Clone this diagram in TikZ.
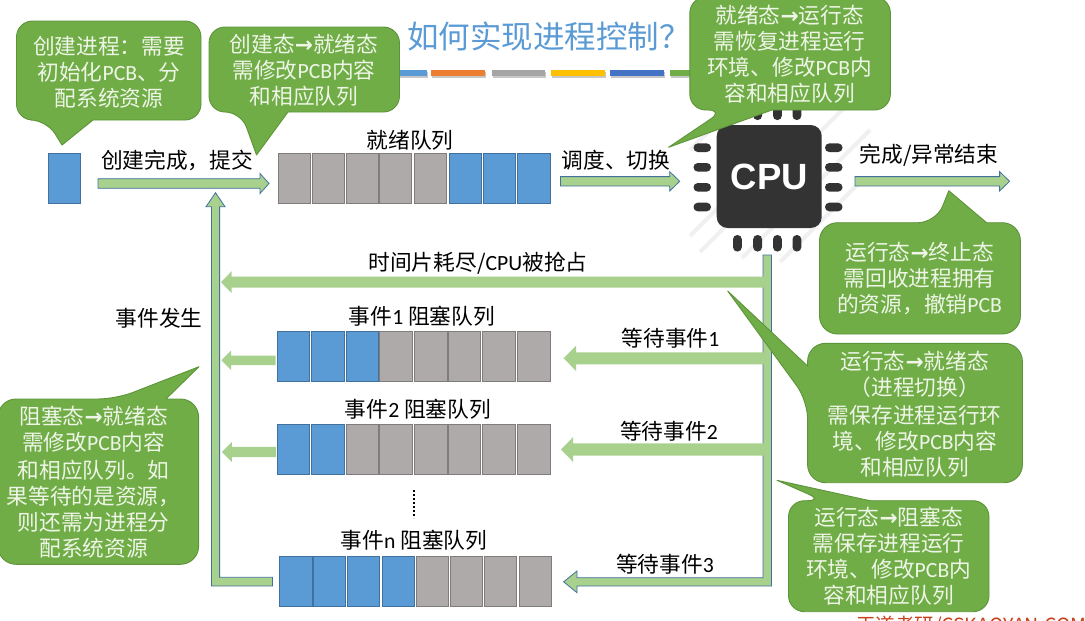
\documentclass[tikz,border=0pt]{standalone}
\usepackage{fontspec}
\usetikzlibrary{calc}
\setmainfont{Noto Sans CJK SC}
\newfontfamily\cjkfont{Noto Sans CJK SC}
\newfontfamily\latfont{Carlito}
\newfontfamily\cpufont{Liberation Sans}
\newfontfamily\arrfont{DejaVu Sans}
\newcommand{\lat}[1]{{\latfont #1}}
\newcommand{\arr}{{\arrfont\bfseries →}}
\definecolor{cgreen}{HTML}{70AD47}
\definecolor{cgreenedge}{HTML}{5E9439}
\definecolor{cinktext}{HTML}{EEF5E6}
\definecolor{barfill}{HTML}{A9D18E}
\definecolor{baredge}{HTML}{41719C}
\definecolor{bluefill}{HTML}{5B9BD5}
\definecolor{grayfill}{HTML}{AEAAAA}
\definecolor{grayedge}{HTML}{7F7C7C}
\definecolor{chip}{HTML}{333333}
\definecolor{markred}{HTML}{C8401A}
\tikzset{
  x=1pt,y=-1pt,
  txt/.style={inner sep=0pt,outer sep=0pt,font=\cjkfont\fontsize{21.7}{26}\selectfont,align=center,text=black},
  calltxt/.style={txt,text=cinktext},
  callout/.style={draw=cgreenedge,fill=cgreen,line width=0.9pt,line join=round},
  cb/.style={draw=baredge,fill=bluefill,line width=1pt,inner sep=0pt,outer sep=0pt},
  cg/.style={draw=grayedge,fill=grayfill,line width=1pt,inner sep=0pt,outer sep=0pt},
  edged/.style={draw=baredge,fill=barfill,line width=0.8pt,line join=miter},
  plain/.style={fill=barfill,draw=none},
  pin/.style={fill=chip,draw=none},
  stripe/.style={draw=black!6,line width=4pt},
}
% block arrow between two named points: style, from, to, shaft half, head half, head length
\newcommand{\blockarrow}[6]{%
  \path[#1] ($(#2)!#4pt!90:(#3)$)
    -- ($($(#3)!#6pt!(#2)$)!#4pt!90:(#3)$)
    -- ($($(#3)!#6pt!(#2)$)!#5pt!90:(#3)$)
    -- (#3)
    -- ($($(#3)!#6pt!(#2)$)!#5pt!-90:(#3)$)
    -- ($($(#3)!#6pt!(#2)$)!#4pt!-90:(#3)$)
    -- ($(#2)!#4pt!-90:(#3)$) -- cycle;}
% row of queue cells: prefix, top, bottom, list of index/x1/x2/style
\newcommand{\cellrow}[4]{%
  \foreach \i/\xa/\xb/\st in {#4}{%
    \node[\st,minimum width={(\xb-\xa)*1pt},minimum height={(#3-#2)*1pt}] (#1\i) at ({(\xa+\xb)/2},{(#2+#3)/2}) {};}}
\begin{document}
\begin{tikzpicture}
\clip (0,0) rectangle (1085,621);
\useasboundingbox (0,0) rectangle (1085,621);
\fill[white] (0,0) rectangle (1085,621);

% title and coloured rule
\node[txt,anchor=west,text=bluefill,font=\cjkfont\fontsize{31.5}{36}\selectfont] (title) at (407,36) {如何实现进程控制？};
\foreach \xa/\xb/\c in {372/427/5B9BD5,431/485/ED7D31,492/545/A5A5A5,551/605/FFC000,610/664/4472C4,670/720/70AD47}{
  \fill[black!22] (\xa+1,71.5) rectangle (\xb+1,77.5);
  \definecolor{tmpc}{HTML}{\c}
  \fill[tmpc] (\xa,70) rectangle (\xb,76);
}

% CPU icon
\draw[stripe] (690,236) -- (800,126);
\draw[stripe] (700,252) -- (852,100);
\draw[stripe] (742,258) -- (870,130);
\draw[stripe] (780,262) -- (862,180);
\draw[stripe] (690,150) -- (728,112);
\foreach \y in {147.7,167.3,187.3,207}{
  \fill[pin,rounded corners=4.2pt] (693.5,\y-4.3) rectangle (711,\y+4.3);
  \fill[pin,rounded corners=4.2pt] (825,\y-4.3) rectangle (842.5,\y+4.3);
}
\foreach \x in {737.4,757.6,777.4,796.9}{
  \fill[pin,rounded corners=4.2pt] (\x-4.4,235) rectangle (\x+4.4,251.5);
  \fill[pin,rounded corners=4.2pt] (\x-4.4,104) rectangle (\x+4.4,120);
}
\node[fill=chip,rounded corners=11pt,inner sep=0pt,minimum width=105pt,minimum height=103pt,text=white,font=\cpufont\bfseries\fontsize{36.5}{40}\selectfont] (cpu) at (769.2,176.5) {CPU};

% process and queues
\node[cb,minimum width=32pt,minimum height=50pt] (proc) at (64.5,178) {};
\cellrow{r}{153.5}{203.5}{1/278/310.6/cg,2/312/344.7/cg,3/346/378/cg,4/379.5/411.5/cg,5/414.6/446.6/cg,6/449.4/481.4/cb,7/483/515.5/cb,8/517/550/cb}
\cellrow{a}{331.7}{381.7}{1/277.5/309.6/cb,2/311.4/344/cb,3/346/378/cb,4/379.6/412/cg,5/414/447/cg,6/448.6/480/cg,7/482/515/cg,8/517/550/cg}
\cellrow{b}{424.3}{474.3}{1/277.5/309.6/cb,2/311.4/344/cb,3/346/378/cg,4/379.6/412/cg,5/414/447/cg,6/448.6/480/cg,7/482/515/cg,8/517/550/cg}
\cellrow{n}{556.7}{606}{1/279/312/cb,2/313/345.7/cb,3/347.5/379.6/cb,4/382/414.6/cb,5/416.4/448.6/cg,6/450.4/482.5/cg,7/484.3/516.8/cg,8/519/551.4/cg}
\draw[line width=1.6pt,dash pattern=on 2pt off 2pt] (414,490) -- (414,518);

% labels
\node[txt] (lsubmit) at (177,160) {创建完成，提交};
\node[txt] (lready) at (410,140) {就绪队列};
\node[txt] (lsched) at (616,160) {调度、切换};
\node[txt] (lfinish) at (929,155.7) {完成/异常结束};
\node[txt] (lslice) at (478,263) {时间片耗尽/\lat{CPU}被抢占};
\node[txt] (lhappen) at (159,318) {事件发生};
\node[txt] (lq1) at (422,316) {事件\lat{1} 阻塞队列};
\node[txt] (lq2) at (418,409) {事件\lat{2} 阻塞队列};
\node[txt] (lqn) at (414,540) {事件\lat{n} 阻塞队列};
\node[txt] (lw1) at (670.5,338) {等待事件\lat{1}};
\node[txt] (lw2) at (669,431) {等待事件\lat{2}};
\node[txt] (lw3) at (665,564) {等待事件\lat{3}};

% vertical trunk with the third waiting arrow
\coordinate (trunktop) at (767.3,255);
\path[edged] (763,255) -- (771.5,255) -- (771.5,586) -- (577,586) -- (577,592.7) -- (563.6,581.8) -- (577,571) -- (577,577.7) -- (763,577.7) -- cycle;

% return path up to the ready queue
\path[edged] (272.5,577.3) -- (219.6,577.3) -- (219.6,206.7) -- (225,206.7) -- (215.5,192.7) -- (206,206.7) -- (211.4,206.7) -- (211.4,586) -- (272.5,586) -- cycle;

% straight arrows
\coordinate (s1) at (98,183.5);   \coordinate (e1) at (269,183.5);
\coordinate (s2) at (560.5,181.3);\coordinate (e2) at (679.7,181.3);
\coordinate (s3) at (855,181.3);  \coordinate (e3) at (1009.6,181.3);
\blockarrow{edged}{s1}{e1}{4.8}{10}{9}
\blockarrow{edged}{s2}{e2}{4.7}{9.7}{10}
\blockarrow{edged}{s3}{e3}{4.7}{9.7}{10}

\coordinate (t0) at (764,282.2);  \coordinate (t1) at (221,282.2);
\coordinate (w1s) at (764,358.3); \coordinate (w1e) at (563.6,358.3);
\coordinate (w2s) at (764,449.5); \coordinate (w2e) at (561,449.5);
\blockarrow{plain}{t0}{t1}{5.5}{11}{10.7}
\blockarrow{plain}{w1s}{w1e}{6}{12.5}{12.4}
\blockarrow{plain}{w2s}{w2e}{6.2}{12.3}{12}
\coordinate (h1s) at (275.7,360.3); \coordinate (h1e) at (221.4,360.3);
\coordinate (h2s) at (276,452);     \coordinate (h2e) at (221.8,452);
\blockarrow{plain}{h1s}{h1e}{4.7}{9.7}{9.6}
\blockarrow{plain}{h2s}{h2e}{5.1}{9.9}{10}

% callouts
\draw[callout,rounded corners=16pt] (93,120) -- (201,120) -- (201,21) -- (16.5,21) -- (16.5,120) -- (46.5,120) [sharp corners] -- (62,145) -- cycle;
\node[calltxt] (c1) at (109,72) {创建进程：需要\\初始化\lat{PCB}、分\\配系统资源};

\draw[callout,rounded corners=16pt] (288,112) -- (399.5,112) -- (399.5,27) -- (209,27) -- (209,112) -- (241,112) [sharp corners] -- (256.5,155) -- cycle;
\node[calltxt] (c2) at (304,70.5) {创建态\arr 就绪态\\需修改\lat{PCB}内容\\和相应队列};

\draw[callout,rounded corners=16pt] (772,110) -- (890.4,110) -- (890.4,-3) -- (689.8,-3) -- (689.8,110) -- (724,110) [sharp corners] -- (668.6,147.3) -- cycle;
\node[calltxt] (c3) at (789.6,54.5) {就绪态\arr 运行态\\需恢复进程运行\\环境、修改\lat{PCB}内\\容和相应队列};

\draw[callout,rounded corners=18pt] (986.6,222.7) -- (1020.4,222.7) -- (1020.4,334) -- (819.5,334) -- (819.5,222.7) -- (936,222.7) [sharp corners] -- (948.8,190.7) -- cycle;
\node[calltxt] (c4) at (919.6,278.5) {运行态\arr 终止态\\需回收进程拥有\\的资源，撤销\lat{PCB}};

\draw[callout,rounded corners=18pt] (807.6,366) -- (807.6,343.3) -- (1022.4,343.3) -- (1022.4,482.7) -- (807.6,482.7) -- (807.6,400.7) [sharp corners] -- (727.7,291) -- cycle;
\node[calltxt] (c5) at (914.7,413.8) {运行态\arr 就绪态\\（进程切换）\\[2pt]需保存进程运行环\\境、修改\lat{PCB}内容\\和相应队列};

\draw[callout,rounded corners=16pt] (870,500.7) -- (989,500.7) -- (989,611.7) -- (788.5,611.7) -- (788.5,500.7) -- (823.3,500.7) [sharp corners] -- (777,480.3) -- cycle;
\node[calltxt] (c6) at (888.6,556.5) {运行态\arr 阻塞态\\需保存进程运行\\环境、修改\lat{PCB}内\\容和相应队列};

\draw[callout,rounded corners=18pt] (166,399) -- (198.6,399) -- (198.6,564.3) -- (-2,564.3) -- (-2,399) -- (116,399) [sharp corners] -- (199,366.7) -- cycle;
\node[calltxt] (c7) at (93.6,482.5) {阻塞态\arr 就绪态\\需修改\lat{PCB}内容\\[2pt]和相应队列。如\\果等待的是资源，\\则还需为进程分\\配系统资源};

% cropped watermark
\node[txt,anchor=west,text=markred,font=\cjkfont\fontsize{19.5}{24}\selectfont] (mark) at (856,626) {王道考研/CSKAOYAN.COM};
\end{tikzpicture}
\end{document}
